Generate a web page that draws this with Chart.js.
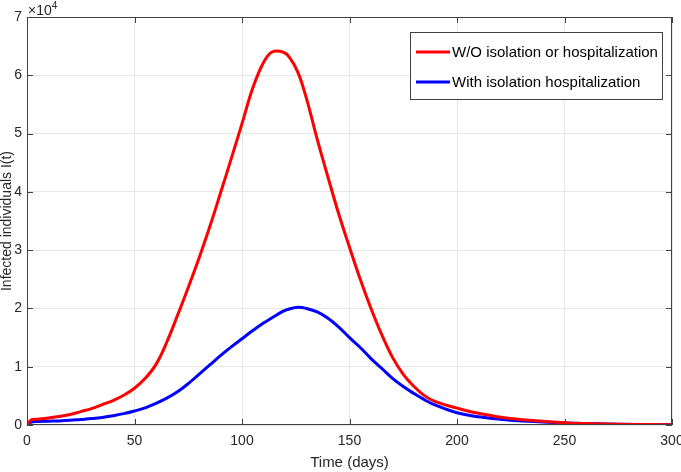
<!DOCTYPE html>
<html>
<head>
<meta charset="utf-8">
<script src="https://cdn.jsdelivr.net/npm/chart.js@4"></script>
<style>
  html, body { margin: 0; padding: 0; background: #fff; }
  #wrap { width: 681px; height: 472px; }
</style>
</head>
<body>
<div id="wrap"><canvas id="myChart" width="681" height="472"></canvas></div>
<script>
// time in days
const days = [0, 2, 5, 10, 15, 20, 25, 30, 35, 40, 45, 50, 55, 60, 65, 70, 75, 80, 85, 90, 95, 100,
  105, 110, 114, 119, 122, 126, 130, 135, 140, 145, 150, 155, 160, 165, 170, 175, 180, 185, 190,
  200, 210, 225, 250, 275, 300];

// infected, no isolation / hospitalization
const infectedNoIso = [0, 900, 1000, 1200, 1450, 1800, 2300, 2800, 3500, 4200, 5100, 6300, 8000,
  10400, 14200, 18800, 23600, 28600, 34000, 39800, 45700, 51700, 57800, 62200, 64000, 64000, 63100,
  60500, 56000, 49000, 42500, 36200, 30500, 25000, 20000, 15500, 11600, 8700, 6600, 5000, 4000,
  2900, 2000, 1100, 400, 150, 50];

// infected, with isolation and hospitalization
const infectedIso = [0, 500, 600, 650, 700, 800, 950, 1100, 1300, 1600, 1950, 2400, 2950, 3700,
  4600, 5700, 7100, 8700, 10300, 11900, 13400, 14800, 16200, 17500, 18400, 19500, 19900, 20200,
  20000, 19400, 18300, 16800, 15000, 13300, 11400, 9700, 8000, 6600, 5400, 4300, 3400, 2100,
  1400, 800, 350, 150, 50];

const seriesNames = ['W/O isolation or hospitalization', 'With isolation hospitalization'];
const xTicks = [0, 50, 100, 150, 200, 250, 300];
const yTicks = [0, 1, 2, 3, 4, 5, 6, 7];

const FONT = '"Liberation Sans", Arial, sans-serif';
const AX = '#404040';

const toPts = arr => arr.map((v, i) => ({ x: days[i], y: v }));

const matlabBox = {
  id: 'matlabBox',
  afterDraw(chart) {
    const ctx = chart.ctx;
    const a = chart.chartArea;
    const xs = chart.scales.x, ys = chart.scales.y;
    ctx.save();
    // box
    ctx.strokeStyle = AX;
    ctx.lineWidth = 1;
    ctx.strokeRect(a.left + 0.5, a.top + 0.5, a.right - a.left - 1, a.bottom - a.top - 1);
    // inward ticks on all sides
    ctx.beginPath();
    xTicks.forEach(t => {
      const px = Math.round(xs.getPixelForValue(t)) + 0.5;
      ctx.moveTo(px, a.bottom); ctx.lineTo(px, a.bottom - 6);
      ctx.moveTo(px, a.top); ctx.lineTo(px, a.top + 6);
    });
    yTicks.forEach(t => {
      const py = Math.round(ys.getPixelForValue(t * 1e4)) + 0.5;
      ctx.moveTo(a.left, py); ctx.lineTo(a.left + 6, py);
      ctx.moveTo(a.right, py); ctx.lineTo(a.right - 6, py);
    });
    ctx.stroke();

    // exponent label
    ctx.fillStyle = '#262626';
    ctx.font = '14px ' + FONT;
    ctx.textBaseline = 'alphabetic';
    ctx.textAlign = 'left';
    ctx.fillText('\u00d710', a.left + 1, 15);
    const w = ctx.measureText('\u00d710').width;
    ctx.font = '10px ' + FONT;
    ctx.fillText('4', a.left + 1 + w, 9);

    // legend
    const lx = 410, ly = 32, lw = 252, lh = 67;
    ctx.fillStyle = '#fff';
    ctx.fillRect(lx, ly, lw, lh);
    ctx.strokeStyle = AX;
    ctx.strokeRect(lx + 0.5, ly + 0.5, lw, lh);
    const colors = ['#ff0000', '#0000ff'];
    const rows = [52, 82];
    ctx.font = '15px ' + FONT;
    ctx.textBaseline = 'middle';
    seriesNames.forEach((n, i) => {
      ctx.strokeStyle = colors[i];
      ctx.lineWidth = 3;
      ctx.beginPath();
      ctx.moveTo(416, rows[i]); ctx.lineTo(450, rows[i]);
      ctx.stroke();
      ctx.fillStyle = '#000';
      ctx.fillText(n, 452, rows[i] + 1);
    });
    ctx.restore();
  }
};

new Chart(document.getElementById('myChart'), {
  type: 'line',
  data: {
    datasets: [
      {
        label: seriesNames[0],
        data: toPts(infectedNoIso),
        borderColor: '#ff0000',
        borderWidth: 3,
        pointRadius: 0,
        tension: 0.4
      },
      {
        label: seriesNames[1],
        data: toPts(infectedIso),
        borderColor: '#0000ff',
        borderWidth: 3,
        pointRadius: 0,
        tension: 0.4
      }
    ]
  },
  options: {
    responsive: false,
    animation: false,
    layout: { padding: { left: 0, top: 17, right: 9, bottom: 0 } },
    plugins: { legend: { display: false }, tooltip: { enabled: false } },
    scales: {
      x: {
        type: 'linear',
        min: 0, max: 300,
        afterBuildTicks: s => { s.ticks = xTicks.map(v => ({ value: v })); },
        afterFit: s => { s.height = 47; s.paddingLeft = 0; s.paddingRight = 0; },
        grid: { color: '#e6e6e6', drawTicks: false },
        border: { display: false },
        ticks: { font: { family: FONT, size: 14 }, color: '#262626', padding: 8, maxRotation: 0 },
        title: { display: true, text: 'Time (days)', font: { family: FONT, size: 15 }, color: '#262626', padding: { top: 0, bottom: 0 } }
      },
      y: {
        min: 0, max: 70000,
        afterBuildTicks: s => { s.ticks = yTicks.map(v => ({ value: v * 1e4 })); },
        afterFit: s => { s.width = 27; s.paddingTop = 0; s.paddingBottom = 0; },
        grid: { color: '#e6e6e6', drawTicks: false },
        border: { display: false },
        ticks: { font: { family: FONT, size: 14 }, color: '#262626', padding: 5, callback: v => String(v / 1e4) },
        title: { display: true, text: 'Infected individuals I(t)', font: { family: FONT, size: 14, lineHeight: 1 }, color: '#262626', padding: { top: 0, bottom: 0 } }
      }
    }
  },
  plugins: [matlabBox]
});
</script>
</body>
</html>
